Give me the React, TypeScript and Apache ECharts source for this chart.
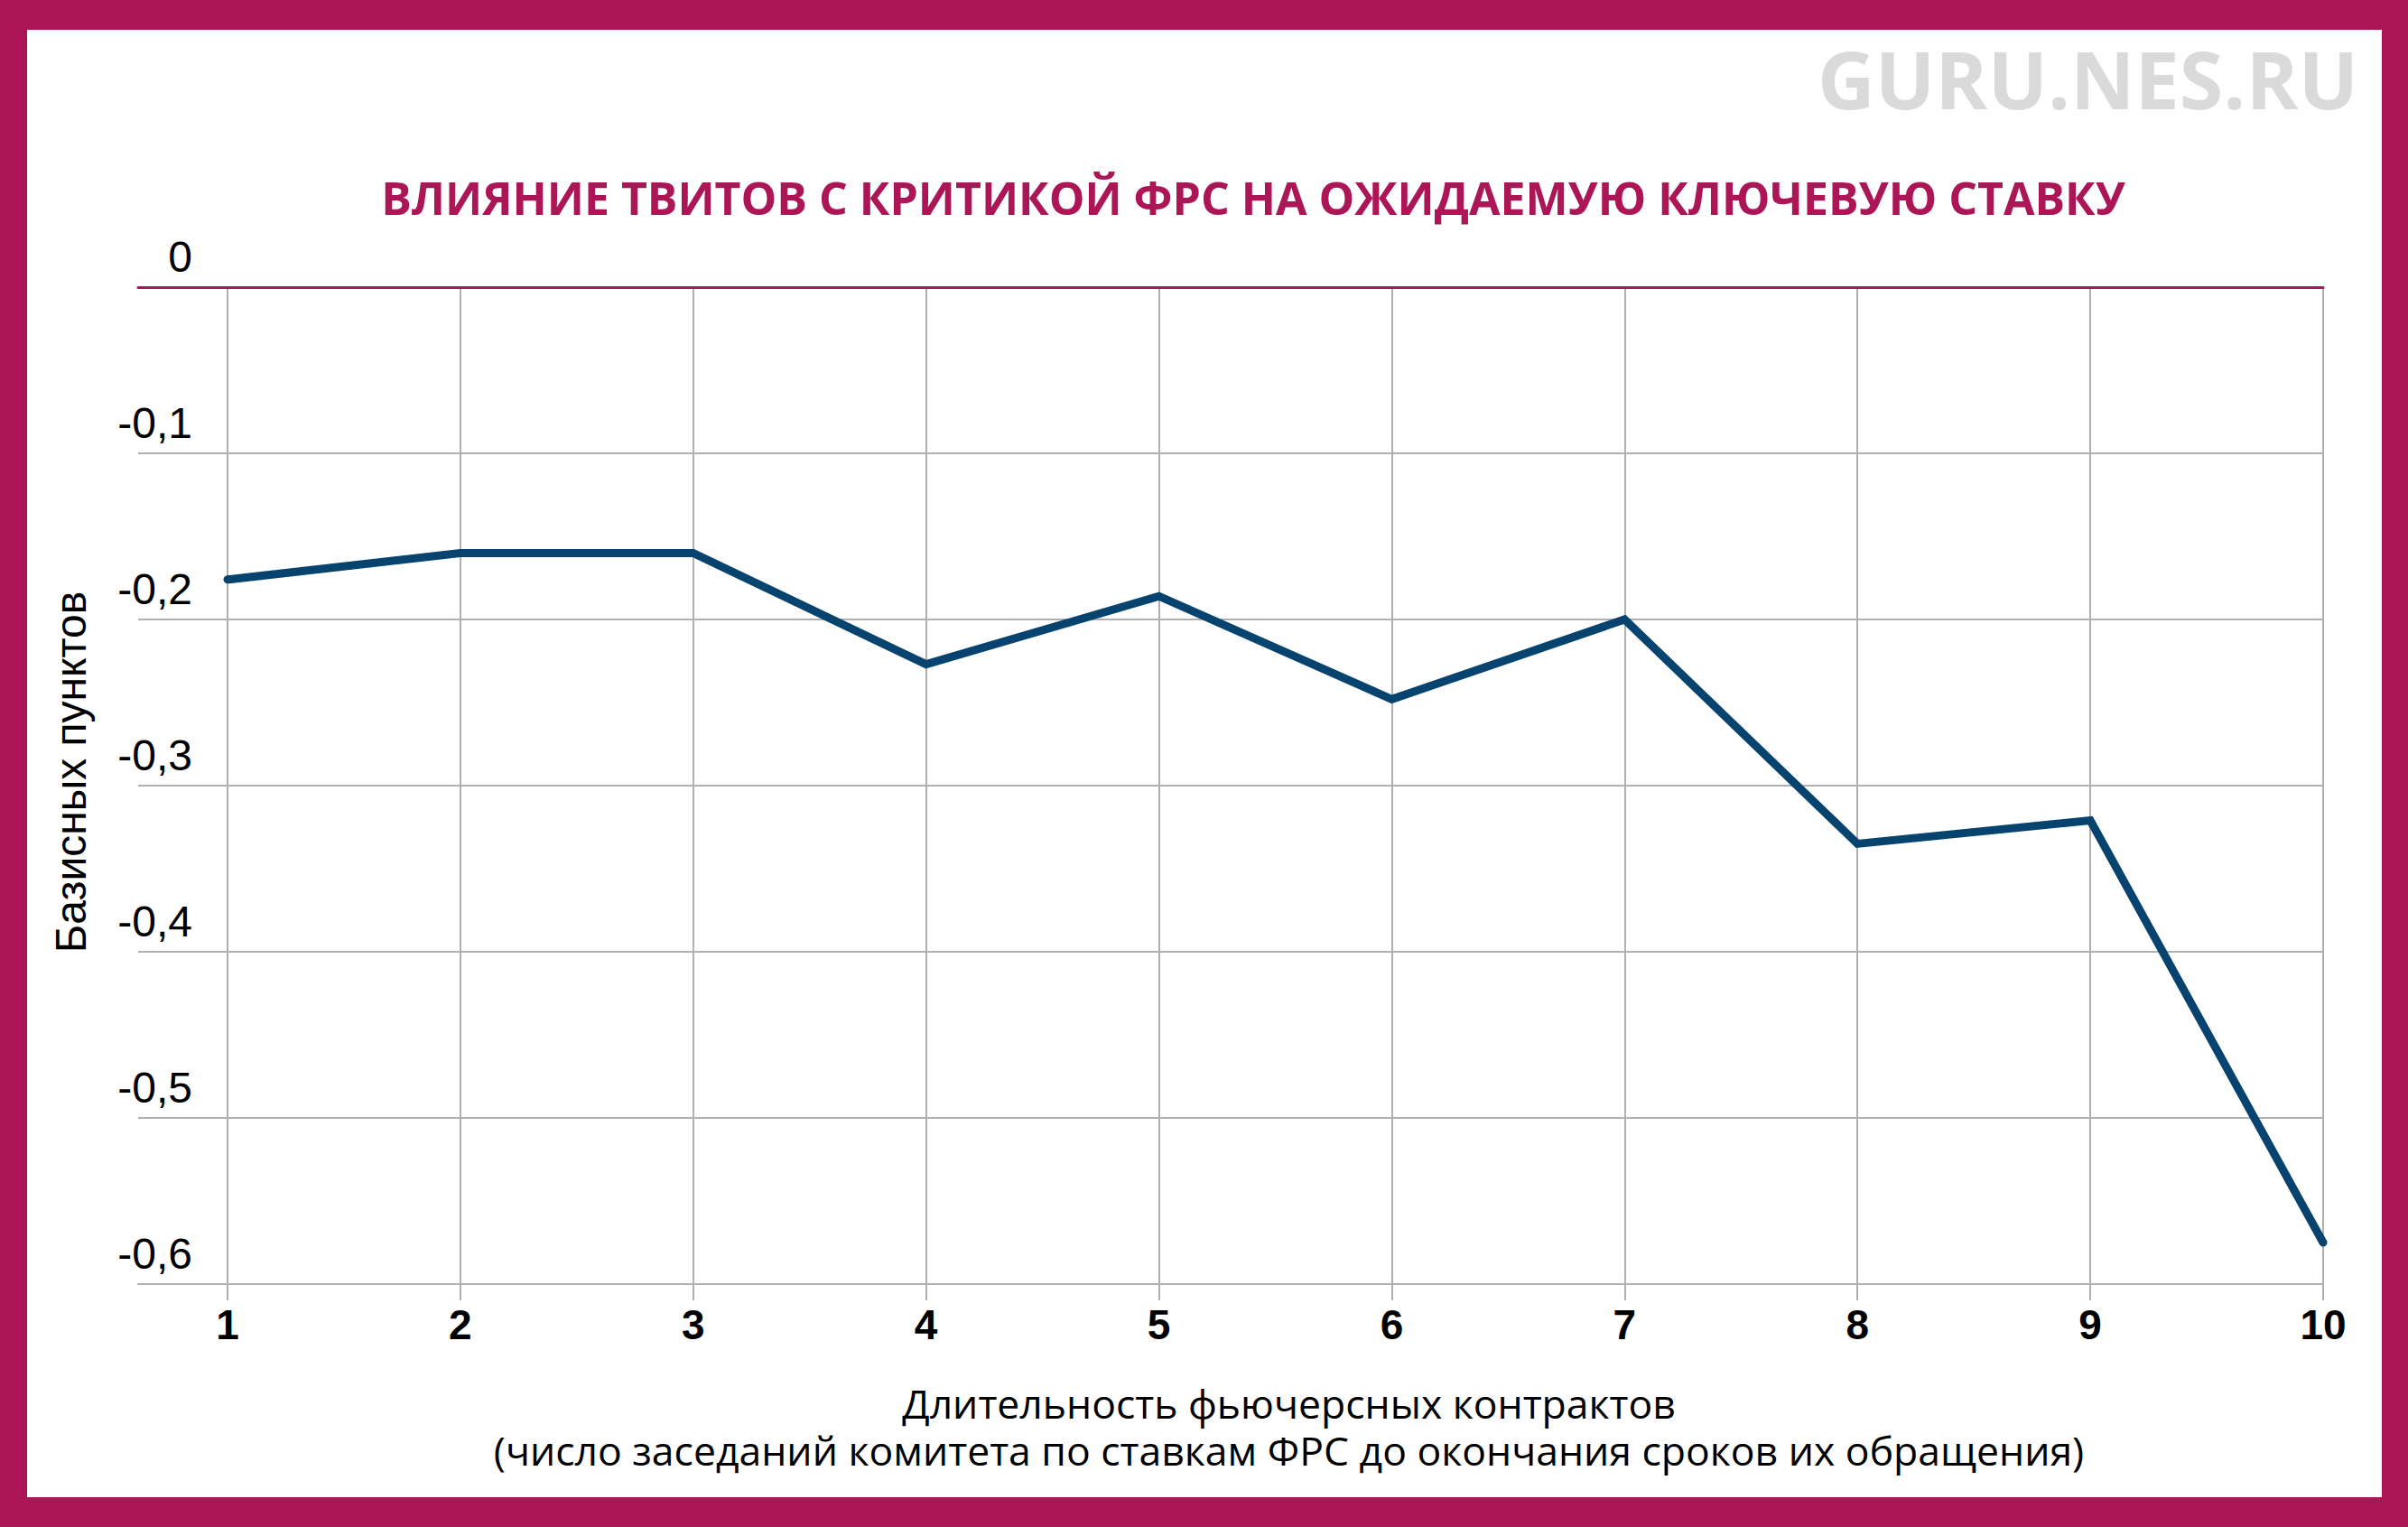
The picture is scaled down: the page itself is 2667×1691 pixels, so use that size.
import React, { useEffect, useRef } from "react";
import * as echarts from "echarts";

// ---- data ----
const categories = [1, 2, 3, 4, 5, 6, 7, 8, 9, 10];
const values = [-0.176, -0.16, -0.16, -0.227, -0.186, -0.248, -0.2, -0.335, -0.321, -0.575];
const yMin = -0.6;
const yMax = 0;
const yStep = 0.1;

const titleText = "ВЛИЯНИЕ ТВИТОВ С КРИТИКОЙ ФРС НА ОЖИДАЕМУЮ КЛЮЧЕВУЮ СТАВКУ";
const watermarkText = "GURU.NES.RU";
const yAxisName = "Базисных пунктов";
const xAxisName =
  "Длительность фьючерсных контрактов\n(число заседаний комитета по ставкам ФРС до окончания сроков их обращения)";

const W = 2667;
const H = 1691;
const MAGENTA = "#AC1656";
const GRID = "#B0B0B0";
const LINE = "#07436F";

export default function App() {
  const ref = useRef<HTMLDivElement>(null);

  useEffect(() => {
    document.body.style.margin = "0";
    if (!ref.current) return;
    const chart = echarts.init(ref.current, null, { renderer: "svg", width: W, height: H });

    const gridTop = 318;
    const gridHeight = 1104;
    const rightEdge = 2573;

    const option: any = {
      animation: false,
      backgroundColor: "#ffffff",
      grid: [
        { left: 153, right: W - rightEdge, top: gridTop, height: gridHeight, containLabel: false },
        { left: 252, right: W - rightEdge, top: gridTop, height: gridHeight, containLabel: false },
      ],
      xAxis: [
        {
          gridIndex: 0,
          type: "value",
          min: 0,
          max: 1,
          position: "bottom",
          z: 3,
          axisLine: { show: true, onZero: false, lineStyle: { color: GRID, width: 2 } },
          axisTick: { show: false },
          axisLabel: { show: false },
          splitLine: { show: false },
        },
        {
          gridIndex: 0,
          type: "value",
          min: 0,
          max: 1,
          position: "top",
          z: 3,
          axisLine: { show: true, onZero: false, lineStyle: { color: MAGENTA, width: 3 } },
          axisTick: { show: false },
          axisLabel: { show: false },
          splitLine: { show: false },
        },
        {
          gridIndex: 1,
          type: "value",
          min: categories[0],
          max: categories[categories.length - 1],
          interval: 1,
          position: "bottom",
          axisLine: { show: false, onZero: false },
          axisTick: { show: true, length: 18, lineStyle: { color: GRID, width: 2 } },
          axisLabel: {
            show: true,
            margin: 22,
            fontSize: 46,
            fontWeight: "bold",
            fontFamily: "'Liberation Sans Narrow', 'Liberation Sans', Arial, sans-serif",
            color: "#000",
          },
          splitLine: { show: true, lineStyle: { color: GRID, width: 2 } },
          name: xAxisName,
          nameLocation: "middle",
          nameGap: 105,
          nameTextStyle: {
            fontSize: 44.5,
            lineHeight: 52,
            fontFamily: "'Open Sans', 'Noto Sans', sans-serif",
            color: "#000",
            align: "center",
            padding: [0, 0, 0, 30],
          },
        },
      ],
      yAxis: [
        {
          gridIndex: 0,
          type: "value",
          min: yMin,
          max: yMax,
          interval: yStep,
          axisLine: { show: false, onZero: false },
          axisTick: { show: false },
          axisLabel: { show: false },
          splitLine: {
            show: true,
            lineStyle: {
              color: ["rgba(0,0,0,0)", GRID, GRID, GRID, GRID, GRID, "rgba(0,0,0,0)"],
              width: 2,
            },
          },
        },
        {
          gridIndex: 1,
          type: "value",
          min: yMin,
          max: yMax,
          interval: yStep,
          axisLine: { show: false, onZero: false },
          axisTick: { show: false },
          splitLine: { show: false },
          axisLabel: {
            show: true,
            margin: 39,
            align: "right",
            verticalAlign: "middle",
            lineHeight: 67,
            fontSize: 48,
            fontFamily: "'Liberation Sans', Arial, sans-serif",
            color: "#000",
            formatter: (v: number) =>
              (Math.abs(v) < 1e-9 ? "0" : v.toFixed(1).replace(".", ",")) + "\n ",
          },
          name: yAxisName,
          nameLocation: "middle",
          nameRotate: 90,
          nameGap: 150,
          nameTextStyle: {
            fontSize: 48,
            fontFamily: "'Liberation Sans', Arial, sans-serif",
            color: "#000",
            padding: [0, 0, 0, 30],
          },
        },
      ],
      series: [
        {
          type: "line",
          xAxisIndex: 2,
          yAxisIndex: 1,
          data: categories.map((c, i) => [c, values[i]]),
          symbol: "none",
          z: 5,
          lineStyle: { color: LINE, width: 9, cap: "round", join: "miter" },
        },
      ],
      graphic: [
        { type: "rect", shape: { x: 0, y: 0, width: W, height: 33 }, style: { fill: MAGENTA }, silent: true },
        { type: "rect", shape: { x: 0, y: 1658, width: W, height: H - 1658 }, style: { fill: MAGENTA }, silent: true },
        { type: "rect", shape: { x: 0, y: 0, width: 30, height: H }, style: { fill: MAGENTA }, silent: true },
        { type: "rect", shape: { x: 2638, y: 0, width: W - 2638, height: H }, style: { fill: MAGENTA }, silent: true },
        {
          type: "text",
          x: 1388,
          y: 219,
          silent: true,
          style: {
            text: titleText,
            fill: MAGENTA,
            font: "bold 50px 'Open Sans', 'Noto Sans', sans-serif",
            textAlign: "center",
            textVerticalAlign: "middle",
          },
        },
        {
          type: "text",
          x: 2612,
          y: 87,
          silent: true,
          style: {
            text: watermarkText,
            fill: "#DADADA",
            font: "bold 88px 'Open Sans', 'Noto Sans', sans-serif",
            textAlign: "right",
            textVerticalAlign: "middle",
          },
        },
      ],
    };

    chart.setOption(option);
    return () => chart.dispose();
  }, []);

  return (
    <div
      ref={ref}
      style={{ position: "absolute", left: 0, top: 0, width: W, height: H, background: "#fff" }}
    />
  );
}
